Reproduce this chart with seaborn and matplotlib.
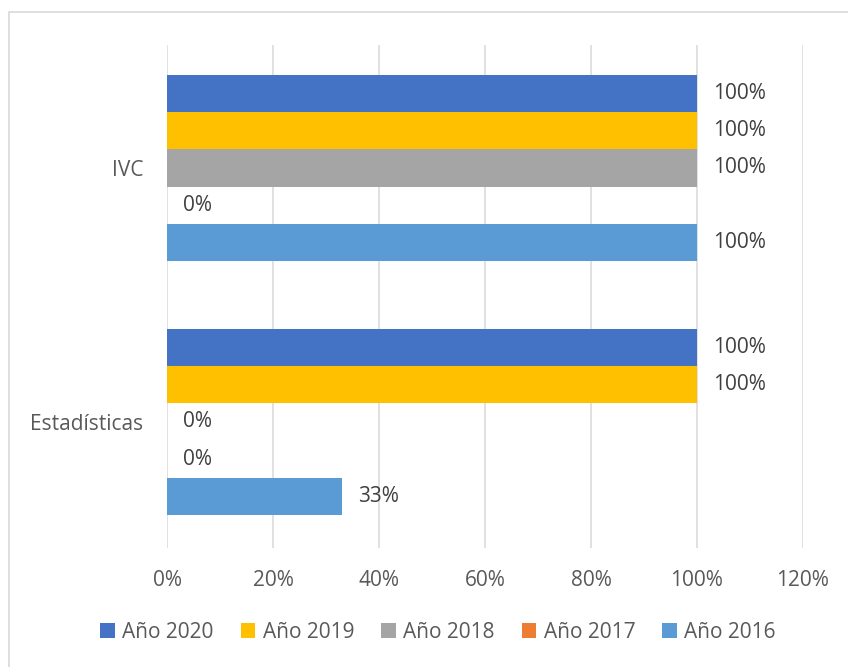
import matplotlib
matplotlib.use("Agg")
import matplotlib.pyplot as plt
from matplotlib.patches import Patch, Rectangle
from matplotlib.ticker import FuncFormatter, MultipleLocator
import pandas as pd
import seaborn as sns

# Data
categorias = ["IVC", "Estadísticas"]
series = ["Año 2020", "Año 2019", "Año 2018", "Año 2017", "Año 2016"]
colores = ["#4472C4", "#FFC000", "#A5A5A5", "#ED7D31", "#5B9BD5"]
valores_ivc = [100, 100, 100, 0, 100]
valores_estadisticas = [100, 100, 0, 0, 33]

filas = []
for cat, vals in zip(categorias, [valores_ivc, valores_estadisticas]):
    for s, v in zip(series, vals):
        filas.append({"categoria": cat, "serie": s, "valor": v})
df = pd.DataFrame(filas)

sns.set_theme(style="white")
plt.rcParams["font.family"] = ["Open Sans", "DejaVu Sans"]

texto = "#595959"
etiqueta = "#404040"
fs = 15

fig = plt.figure(figsize=(8.48, 6.67), dpi=100)
ax = fig.add_axes([167 / 848, 1 - 548 / 667, (803 - 167) / 848, (548 - 45) / 667])

sns.barplot(
    data=df, x="valor", y="categoria", hue="serie",
    order=categorias, hue_order=series, palette=colores, saturation=1,
    orient="h", width=0.73, gap=0, linewidth=0, legend=False, ax=ax,
)

for cont in ax.containers:
    ax.bar_label(cont, labels=[f"{b.get_width():.0f}%" for b in cont],
                 padding=11.5, fontsize=fs, color=etiqueta)

ax.set_xlim(0, 120)
ax.set_ylim(1.496, -0.484)
ax.xaxis.set_major_locator(MultipleLocator(20))
ax.xaxis.set_major_formatter(FuncFormatter(lambda x, _: f"{x:.0f}%"))
ax.grid(axis="x", color="#D9D9D9", linewidth=1.1)
ax.grid(axis="y", visible=False)
ax.set_axisbelow(True)
for sp in ax.spines.values():
    sp.set_visible(False)
ax.tick_params(axis="x", length=0, pad=16, labelsize=fs, labelcolor=texto)
ax.tick_params(axis="y", length=0, pad=17, labelsize=fs, labelcolor=texto)
ax.set_xlabel("")
ax.set_ylabel("")

handles = [Patch(facecolor=c, edgecolor="none", label=s) for s, c in zip(series, colores)]
fig.legend(handles=handles, loc="center", bbox_to_anchor=(438 / 848, 1 - 632 / 667),
           ncol=5, frameon=False, fontsize=fs, labelcolor=texto,
           handlelength=0.7, handleheight=0.7, handletextpad=0.35,
           columnspacing=1.3)

# Chart area outline
fig.patches.append(Rectangle((8.5 / 848, -0.05), 1.0, 1 - 11.5 / 667 + 0.05,
                             transform=fig.transFigure, fill=False,
                             edgecolor="#D9D9D9", linewidth=1.2))

fig.savefig("out.png", dpi=100)
